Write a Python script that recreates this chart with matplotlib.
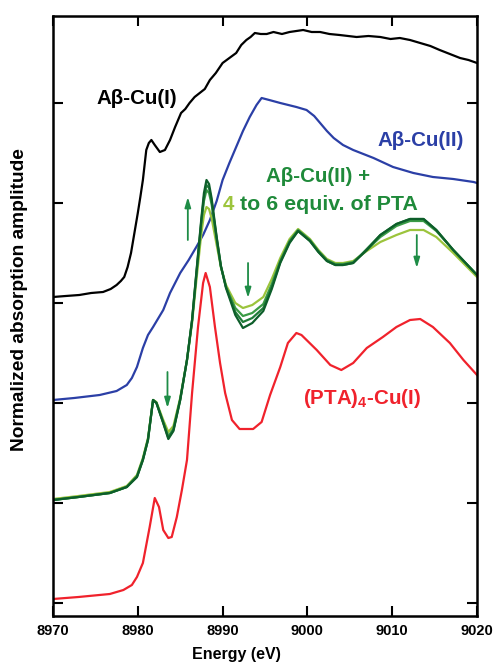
import matplotlib
matplotlib.use("Agg")
import matplotlib.pyplot as plt

# ---------------- data ----------------
# Aβ-Cu(I)  (black)
cu1_x = [8970, 8971.5, 8973.1, 8974.5, 8975.9, 8976.8, 8977.5, 8978.0, 8978.4, 8978.8, 8979.2,
         8979.6, 8980.0, 8980.3, 8980.6, 8981.0, 8981.3, 8981.6, 8982.0, 8982.6, 8983.2,
         8983.8, 8984.4, 8985.1, 8985.6, 8986.1, 8986.7, 8987.3, 8987.9, 8988.5, 8989.2,
         8990.0, 8990.8, 8991.6, 8992.2, 8992.8, 8993.3, 8993.8, 8994.5, 8995.2, 8996.0,
         8997.0, 8997.9, 8998.7, 8999.5, 9000.5, 9001.5, 9002.6, 9003.8, 9004.8, 9005.8,
         9007.2, 9008.6, 9009.8, 9010.9, 9012.1, 9013.3, 9014.5, 9015.6, 9016.8, 9018.0,
         9019.0, 9020]
cu1_y = [3.06, 3.07, 3.08, 3.10, 3.11, 3.14, 3.18, 3.22, 3.26, 3.36, 3.50,
         3.70, 3.90, 4.06, 4.23, 4.53, 4.60, 4.63, 4.58, 4.51, 4.53,
         4.63, 4.76, 4.90, 4.94, 5.00, 5.06, 5.10, 5.14, 5.23, 5.30,
         5.40, 5.45, 5.50, 5.58, 5.63, 5.66, 5.70, 5.69, 5.69, 5.71,
         5.69, 5.71, 5.72, 5.73, 5.71, 5.71, 5.69, 5.68, 5.67, 5.66,
         5.67, 5.66, 5.64, 5.65, 5.63, 5.60, 5.57, 5.53, 5.49, 5.45,
         5.43, 5.40]

# Aβ-Cu(II)  (blue)
cu2_x = [8970, 8972.5, 8975.5, 8977.5, 8978.7, 8979.3, 8979.9, 8980.6, 8981.2, 8981.8, 8983.0,
         8983.8, 8985.0, 8986.0, 8986.9, 8987.7, 8988.5, 8989.3, 8990.0, 8990.8, 8991.6,
         8992.4, 8993.2, 8994.0, 8994.6, 8995.5, 8996.8, 8998.7, 8999.9, 9000.8, 9001.5,
         9002.3, 9003.1, 9004.2, 9005.4, 9007.8, 9010.1, 9012.5, 9014.8, 9017.2, 9019.6, 9020]
cu2_y = [2.03, 2.05, 2.08, 2.12, 2.18, 2.25, 2.36, 2.55, 2.68, 2.76, 2.93,
         3.10, 3.30, 3.43, 3.56, 3.68, 3.83, 4.02, 4.23, 4.40, 4.56,
         4.72, 4.86, 4.98, 5.05, 5.03, 5.00, 4.96, 4.93, 4.87, 4.80,
         4.72, 4.65, 4.58, 4.53, 4.45, 4.36, 4.30, 4.26, 4.24, 4.21, 4.20]

# Aβ-Cu(II) + 4 to 6 equiv. of PTA  (four green spectra)
pta_x = [8970, 8973, 8976.7, 8978.7, 8979.9, 8980.6, 8981.2, 8981.8, 8982.2, 8983.0,
         8983.6, 8984.2, 8985.0, 8985.8, 8986.4, 8986.9, 8987.5, 8987.8, 8988.1, 8988.4,
         8988.7, 8989.3, 8989.8, 8990.4, 8991.5, 8992.4, 8993.5, 8994.8, 8995.8, 8996.8,
         8997.9, 8998.9, 9000.3, 9001.3, 9002.3, 9003.3, 9004.2, 9005.4, 9007.0, 9008.6,
         9010.5, 9012.1, 9013.7, 9015.2, 9017.2, 9020]
pta_a = [1.04, 1.07, 1.11, 1.17, 1.28, 1.45, 1.65, 2.03, 2.01, 1.83,
         1.71, 1.77, 2.05, 2.43, 2.80, 3.22, 3.70, 3.88, 3.96, 3.94,
         3.85, 3.58, 3.36, 3.18, 3.00, 2.95, 2.98, 3.06, 3.24, 3.45,
         3.64, 3.74, 3.64, 3.53, 3.44, 3.40, 3.40, 3.42, 3.52, 3.61,
         3.68, 3.73, 3.73, 3.66, 3.50, 3.26]
pta_b = [1.03, 1.06, 1.10, 1.16, 1.27, 1.44, 1.64, 2.03, 2.00, 1.81,
         1.67, 1.74, 2.04, 2.43, 2.82, 3.27, 3.80, 4.02, 4.13, 4.10,
         3.99, 3.63, 3.36, 3.16, 2.95, 2.87, 2.90, 2.99, 3.19, 3.42,
         3.62, 3.73, 3.63, 3.52, 3.43, 3.39, 3.39, 3.41, 3.53, 3.66,
         3.77, 3.82, 3.82, 3.72, 3.53, 3.28]
pta_c = [1.03, 1.06, 1.10, 1.16, 1.26, 1.43, 1.63, 2.03, 2.00, 1.80,
         1.65, 1.73, 2.03, 2.43, 2.83, 3.29, 3.83, 4.06, 4.18, 4.15,
         4.02, 3.65, 3.37, 3.16, 2.91, 2.81, 2.85, 2.95, 3.16, 3.41,
         3.61, 3.72, 3.62, 3.51, 3.42, 3.38, 3.38, 3.40, 3.54, 3.68,
         3.79, 3.84, 3.84, 3.73, 3.53, 3.28]
pta_d = [1.03, 1.06, 1.10, 1.16, 1.26, 1.43, 1.63, 2.03, 2.00, 1.80,
         1.64, 1.72, 2.03, 2.43, 2.83, 3.30, 3.85, 4.10, 4.23, 4.19,
         4.05, 3.66, 3.37, 3.15, 2.88, 2.75, 2.80, 2.92, 3.14, 3.40,
         3.60, 3.72, 3.62, 3.51, 3.42, 3.38, 3.38, 3.40, 3.53, 3.68,
         3.79, 3.84, 3.84, 3.73, 3.53, 3.28]

# (PTA)4-Cu(I)  (red)
ptacu_x = [8970, 8973, 8976.7, 8978.3, 8979.3, 8979.9, 8980.6, 8981.4, 8982.0, 8982.5, 8983.0,
           8983.6, 8984.0, 8984.6, 8985.2, 8985.8, 8986.4, 8987.1, 8987.7, 8988.0, 8988.5,
           8989.1, 8989.7, 8990.3, 8991.1, 8992.0, 8993.6, 8994.6, 8995.6, 8996.8, 8997.7,
           8998.7, 8999.3, 9001.1, 9002.7, 9004.0, 9005.4, 9007.0, 9008.9, 9010.5, 9012.1,
           9013.3, 9014.8, 9016.8, 9018.4, 9020]
ptacu_y = [0.04, 0.06, 0.09, 0.13, 0.18, 0.26, 0.40, 0.76, 1.05, 0.96, 0.73,
           0.65, 0.66, 0.86, 1.13, 1.43, 2.10, 2.76, 3.20, 3.30, 3.16,
           2.76, 2.40, 2.10, 1.83, 1.74, 1.74, 1.81, 2.08, 2.36, 2.60,
           2.70, 2.68, 2.53, 2.38, 2.33, 2.40, 2.55, 2.66, 2.76, 2.83,
           2.84, 2.76, 2.60, 2.43, 2.28]

# arrows: (x, y_start, y_end)
arrow_x = [8985.9, 8983.5, 8993.0, 9012.9]
arrow_y0 = [3.63, 2.31, 3.40, 3.68]
arrow_y1 = [4.06, 1.95, 3.05, 3.35]

x_ticks = [8970, 8980, 8990, 9000, 9010, 9020]
y_ticks = [0, 1, 2, 3, 4, 5]

# ---------------- figure ----------------
plt.rcParams['font.family'] = ['Liberation Sans', 'DejaVu Sans']
plt.rcParams['font.weight'] = 'bold'
plt.rcParams['mathtext.fontset'] = 'custom'
plt.rcParams['mathtext.bf'] = 'Liberation Sans:bold'

fig = plt.figure(figsize=(4.96, 6.63), dpi=100)
ax = fig.add_axes([53/496, 1-616/663, 424/496, 600/663])

lw = 1.6
ax.plot(cu1_x, cu1_y, color='black', lw=lw)
ax.plot(cu2_x, cu2_y, color='#2b3fa6', lw=lw)
ax.plot(ptacu_x, ptacu_y, color='#f0222c', lw=lw)
ax.plot(pta_x, pta_a, color='#9cc43c', lw=lw)
ax.plot(pta_x, pta_b, color='#3a9b45', lw=lw)
ax.plot(pta_x, pta_c, color='#1f7c38', lw=lw)
ax.plot(pta_x, pta_d, color='#0d5e2a', lw=lw)

for xa, y0, y1 in zip(arrow_x, arrow_y0, arrow_y1):
    ax.annotate('', xy=(xa, y1), xytext=(xa, y0),
                arrowprops=dict(arrowstyle='-|>,head_length=0.6,head_width=0.18',
                                color='#1e8c46', lw=1.3, shrinkA=0, shrinkB=0))

ax.set_xlim(8970, 9020)
ax.set_ylim(-0.13, 5.87)
ax.set_xticks(x_ticks)
ax.set_yticks(y_ticks)
ax.set_yticklabels([])
ax.tick_params(direction='in', length=7, width=1.5, top=True, right=True,
               labelsize=10.5, pad=6)
for lab in ax.get_xticklabels():
    lab.set_fontweight('bold')
for sp in ax.spines.values():
    sp.set_linewidth(1.8)

fs = 14.8
ax.text(8979.9, 5.05, 'Aβ-Cu(I)', color='black', fontsize=fs, fontweight='bold',
        ha='center', va='center')
ax.text(9013.4, 4.63, 'Aβ-Cu(II)', color='#2b3fa6', fontsize=fs, fontweight='bold',
        ha='center', va='center')
ax.text(9001.3, 4.26, 'Aβ-Cu(II) +', color='#1f8a3a', fontsize=fs, fontweight='bold',
        ha='center', va='center')
t1 = ax.text(8990.0, 3.99, '4', color='#9cc43c', fontsize=fs, fontweight='bold',
             ha='left', va='center')
ax.annotate(' to 6 equiv. of PTA', xycoords=t1, xy=(1, 0.5), color='#1f8a3a',
            fontsize=fs + 0.6, fontweight='bold', ha='left', va='center')
ax.text(9006.4, 2.05, r'(PTA)$_{\mathbf{4}}$-Cu(I)', color='#f0222c', fontsize=fs,
        fontweight='bold', ha='center', va='center')

fig.text(236/496, 1-655/663, 'Energy (eV)', fontsize=11.5, fontweight='bold',
         ha='center', va='center')
fig.text(20/496, 1-300/663, 'Normalized absorption amplitude', fontsize=13.8,
         fontweight='bold', rotation=90, ha='center', va='center')

fig.savefig('out.png', dpi=100)
